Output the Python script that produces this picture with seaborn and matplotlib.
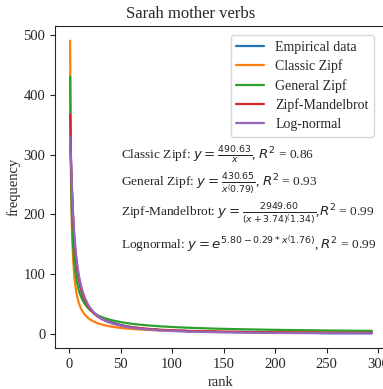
import numpy as np
import pandas as pd
import matplotlib
matplotlib.use("Agg")
import matplotlib.pyplot as plt
import seaborn as sns

# ---- data ----
head_freqs = [328, 280, 232, 190, 160, 135, 118, 104, 94, 86,
              78, 71, 65, 60, 56, 52, 49, 46, 44, 42,
              40, 38, 37, 35, 33, 32, 30, 29, 28, 27,
              26, 25, 24, 24, 23, 22, 21, 21, 20, 20,
              19, 19, 18, 18, 17, 17, 16, 16, 15, 15,
              14, 14, 14, 13, 13, 13, 12, 12, 12, 11,
              11, 11, 11, 10, 10, 10, 10, 9, 9, 9,
              9, 9, 8, 8, 8, 8, 8, 7, 7, 7]
tail_values = [7, 6, 5, 4, 3, 2, 1]
tail_counts = [6, 12, 15, 30, 40, 60, 51]

classic_a = 490.63
general_a, general_b = 430.65, 0.79
zm_a, zm_c, zm_b = 2949.60, 3.74, 1.34
ln_a, ln_b, ln_c = 5.80, 0.29, 1.76

labels = ["Empirical data", "Classic Zipf", "General Zipf", "Zipf-Mandelbrot", "Log-normal"]
fit_texts = [
    r"Classic Zipf: $y = \frac{490.63}{x}$, $R^2$ = 0.86",
    r"General Zipf: $y = \frac{430.65}{x^(0.79)}$, $R^2$ = 0.93",
    r"Zipf-Mandelbrot: $y = \frac{2949.60}{(x + 3.74)^(1.34)}$,$R^2$ = 0.99",
    r"Lognormal: $y = e^{5.80 - 0.29 * x^(1.76)}$, $R^2$ = 0.99",
]
text_y = [300, 250, 200, 150]

# ---- build ----
freqs = list(head_freqs)
for v, c in zip(tail_values, tail_counts):
    freqs += [v] * c
freqs = np.array(freqs, dtype=float)
rank = np.arange(1, len(freqs) + 1)

curves = {
    labels[0]: freqs,
    labels[1]: classic_a / rank,
    labels[2]: general_a / rank ** general_b,
    labels[3]: zm_a / (rank + zm_c) ** zm_b,
    labels[4]: np.exp(ln_a - ln_b * np.log(rank) ** ln_c),
}

sns.set_style("ticks")
plt.rcParams["font.family"] = ["Liberation Serif", "DejaVu Serif"]
plt.rcParams["mathtext.fontset"] = "dejavusans"
plt.rcParams["font.size"] = 10.5

fig = plt.figure(figsize=(3.83, 3.89), dpi=100)
ax = fig.add_axes([55 / 383, 1 - 348 / 389, (387 - 55) / 383, (348 - 26) / 389])

palette = sns.color_palette("tab10")
for i, lab in enumerate(labels):
    sns.lineplot(x=rank, y=curves[lab], ax=ax, color=palette[i], label=lab, linewidth=1.6)

ax.set_xlabel("rank")
ax.set_ylabel("frequency", labelpad=2)
ax.set_title("Sarah mother verbs", fontsize=12, x=(191 - 55) / 332)
ax.set_xticks([0, 50, 100, 150, 200, 250, 300])
ax.set_yticks([0, 100, 200, 300, 400, 500])
for t, y in zip(fit_texts, text_y):
    ax.text(50, y, t, va="center", ha="left", fontsize=9.6)
ax.legend(loc="upper right", fontsize=10, labelspacing=0.42,
          bbox_to_anchor=(1 - 6 / 332, 1 - 2 / 322))

fig.savefig("out.png", dpi=100)
